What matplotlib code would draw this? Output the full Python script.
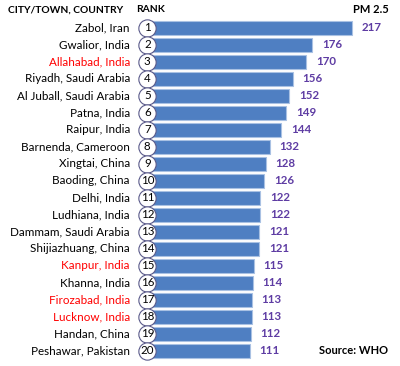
import numpy as np
import matplotlib
matplotlib.use("Agg")
import matplotlib.pyplot as plt

plt.rcParams['font.family'] = ['Lato', 'DejaVu Sans']

cities = ["Zabol, Iran", "Gwalior, India", "Allahabad, India", "Riyadh, Saudi Arabia",
          "Al Juball, Saudi Arabia", "Patna, India", "Raipur, India", "Barnenda, Cameroon",
          "Xingtai, China", "Baoding, China", "Delhi, India", "Ludhiana, India",
          "Dammam, Saudi Arabia", "Shijiazhuang, China", "Kanpur, India", "Khanna, India",
          "Firozabad, India", "Lucknow, India", "Handan, China", "Peshawar, Pakistan"]
pm25 = [217, 176, 170, 156, 152, 149, 144, 132, 128, 126,
        122, 122, 121, 121, 115, 114, 113, 113, 112, 111]
ranks = list(range(1, 21))
highlight = ["Allahabad, India", "Kanpur, India", "Firozabad, India", "Lucknow, India"]

fig = plt.figure(figsize=(4.0, 3.66), dpi=100)
ax = fig.add_axes([0, 0, 1, 1])
ax.set_xlim(-148.6, 267.2)
ax.set_ylim(19.9, -1.63)
ax.axis('off')

y = np.arange(len(cities))
ax.barh(y, pm25, height=0.82, color='#4F7FC2', edgecolor='#A9C1E3', linewidth=0.8, zorder=2)

# kolka z numerem
ax.scatter(np.full(len(y), 4.5), y, s=155, facecolor='white', edgecolor='#5A5A8A',
           linewidth=0.8, zorder=3)
for i, r in enumerate(ranks):
    ax.text(4.5, y[i], str(r), ha='center', va='center', fontsize=8.3, color='black', zorder=4)

# nazwy miast
for i, c in enumerate(cities):
    col = 'red' if c in highlight else 'black'
    ax.text(-13.5, y[i], c, ha='right', va='center', fontsize=8.4, color=col)

# wartosci
for i, v in enumerate(pm25):
    ax.text(v + 10, y[i], str(v), ha='left', va='center', fontsize=8.3,
            color='#5E3CA3', fontweight='bold')

ax.text(-140, -1.05, "CITY/TOWN, COUNTRY", ha='left', va='center', fontsize=7.4, fontweight='bold')
ax.text(-7, -1.05, "RANK", ha='left', va='center', fontsize=7.4, fontweight='bold')
ax.text(255, -1.05, "PM 2.5", ha='right', va='center', fontsize=8, fontweight='bold')
ax.text(255, 19, "Source: WHO", ha='right', va='center', fontsize=8, fontweight='bold')

fig.savefig("out.png", dpi=100)
